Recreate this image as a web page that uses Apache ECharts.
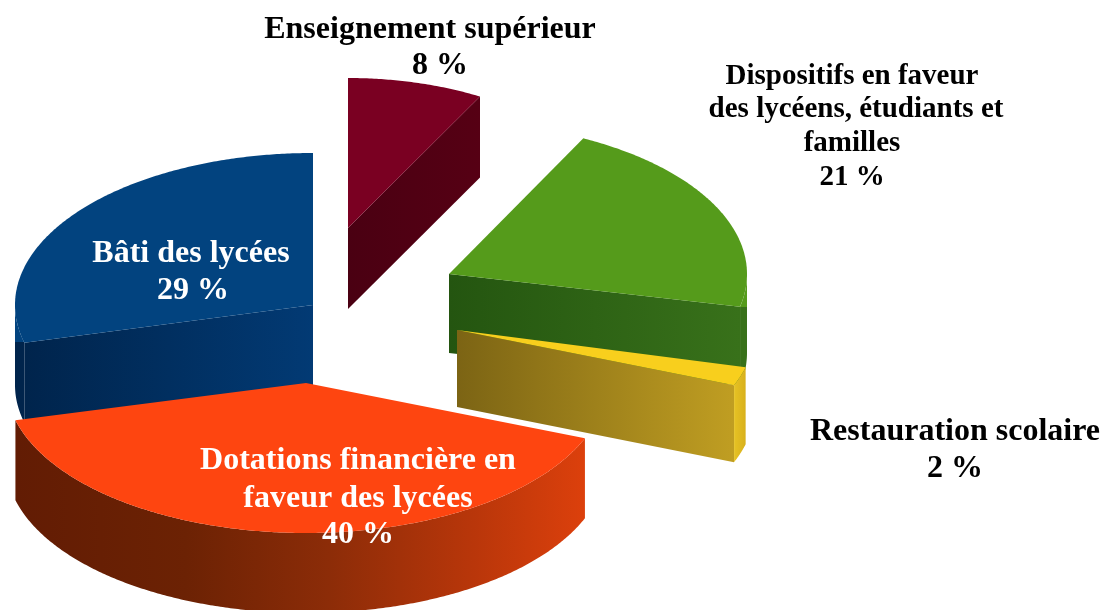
<!DOCTYPE html>
<html>
<head>
<meta charset="utf-8">
<style>html,body{margin:0;padding:0;background:#fff}#c{width:1117px;height:610px}</style>
<script src="https://cdn.jsdelivr.net/npm/echarts@6/dist/echarts.min.js"></script>
</head>
<body>
<div id="c"></div>
<script>
// Data, in clockwise order from 12 o'clock
const categories = ['Enseignement supérieur', 'Dispositifs en faveur des lycéens, étudiants et familles', 'Restauration scolaire', 'Dotations financière en faveur des lycées', 'Bâti des lycées'];
const values = [8, 21, 2, 40, 29];

// Geometry of each exploded slice: apex, radii, thickness, rotation
const apexX = [348, 449, 457, 306, 313];
const apexY = [228, 274, 330, 383, 305];
const radiusX = [274, 298, 298, 300, 298];
const radiusY = [150, 152, 150, 150, 152];
const thickness = [81, 79, 77, 80, 80];
const rotation = [0, -2, 0, 0, 0];
const drawOrder = [0, 4, 1, 2, 3];
// Part of the outer rim (top to bottom) still painted in the face colour
const rimFaceShare = [0, 0.3, 0, 0, 0.31];

// Colours
const faceColors = ['#7a0022', '#559b1b', '#f8cf1d', '#fe4510', '#02437f'];
const wallColors = [
  [[0, '#4a0012'], [1, '#560014']],
  [[0, '#245510'], [1, '#38711a']],
  [[0, '#7c6414'], [1, '#c09e22']],
  [[0, '#621c04'], [0.3, '#6c2204'], [0.55, '#8c2c08'], [0.8, '#b8360a'], [1, '#dc400c']],
  [[0, '#00244c'], [1, '#023a74']]
];
const rimColors = [
  wallColors[0], ['#38711a'],
  [[0, '#e6c224'], [1, '#d8b01c']],
  wallColors[3], ['#00244c']
];

// Text lines
const labelColors = ['#000', '#000', '#000', '#fff', '#fff'];
const labelLines = [
  [categories[0], values[0] + ' %'],
  ['Dispositifs en faveur', 'des lycéens, étudiants et', 'familles', values[1] + ' %'],
  [categories[2], values[2] + ' %'],
  ['Dotations financière en', 'faveur des lycées', values[3] + ' %'],
  [categories[4], values[4] + ' %']
];
const labelX = [[430, 440], [852, 856, 852, 852], [955, 955], [358, 358, 358], [191, 193]];
const labelY = [[30, 66], [77, 110, 144, 178], [432, 469], [461, 499, 535], [254, 291]];
const labelSize = [32, 29, 32, 32, 32];

const total = values.reduce((a, b) => a + b, 0);
const toAngle = v => echarts.number.linearMap(v, [0, total], [0, 360]);
let run = 0;
const rows = values.map((v, i) => { const r = [i, run, run + v]; run += v; return r; });
const data = drawOrder.map(i => rows[i]);

function renderSlice(params, api) {
  const i = api.value(0);
  const a0 = toAngle(api.value(1)) + rotation[i];
  const a1 = toAngle(api.value(2)) + rotation[i];
  const cx = apexX[i], cy = apexY[i], rx = radiusX[i], ry = radiusY[i], t = thickness[i];
  const pt = a => {
    const r = a * Math.PI / 180;
    return [cx + rx * Math.sin(r), cy - ry * Math.cos(r)];
  };
  const arc = (from, to) => {
    const pts = [];
    const n = Math.max(2, Math.ceil(to - from) * 2);
    for (let k = 0; k <= n; k++) pts.push(pt(from + (to - from) * k / n));
    return pts;
  };
  const grad = stops => new echarts.graphic.LinearGradient(0, 0, 1, 0,
    stops.map(s => ({ offset: s[0], color: s[1] })));
  const down = p => [p[0], p[1] + t];
  const children = [];
  const wall = (edgeAngle) => {
    const e = pt(edgeAngle);
    children.push({
      type: 'polygon',
      shape: { points: [[cx, cy], e, down(e), [cx, cy + t]] },
      style: { fill: grad(wallColors[i]) }
    });
  };
  if (a0 > 180) wall(a0);
  if (a1 < 180) wall(a1);
  const rFrom = Math.max(a0, 90), rTo = Math.min(a1, 270);
  if (rTo > rFrom) {
    const top = arc(rFrom, rTo);
    const share = rimFaceShare[i];
    const fill = share > 0
      ? new echarts.graphic.LinearGradient(0, 0, 0, 1, [
          { offset: 0, color: faceColors[i] },
          { offset: share, color: faceColors[i] },
          { offset: share, color: rimColors[i][0] },
          { offset: 1, color: rimColors[i][0] }
        ])
      : grad(rimColors[i]);
    children.push({
      type: 'polygon',
      shape: { points: top.concat(top.slice().reverse().map(down)) },
      style: { fill }
    });
  }
  children.push({
    type: 'polygon',
    shape: { points: [[cx, cy]].concat(arc(a0, a1)) },
    style: { fill: faceColors[i] }
  });
  return { type: 'group', children };
}

const texts = [];
labelLines.forEach((lines, i) => lines.forEach((line, j) => {
  texts.push({
    type: 'text', z: 100, silent: true,
    x: labelX[i][j], y: labelY[i][j],
    style: {
      text: line, fill: labelColors[i], align: 'center', verticalAlign: 'middle',
      font: 'bold ' + labelSize[i] + 'px "Liberation Serif"'
    }
  });
}));

const chart = echarts.init(document.getElementById('c'), null, { renderer: 'canvas' });
chart.setOption({
  animation: false,
  backgroundColor: '#fff',
  series: [{ type: 'custom', coordinateSystem: 'none', renderItem: renderSlice, data: data, silent: true }],
  graphic: texts
});
</script>
</body>
</html>
